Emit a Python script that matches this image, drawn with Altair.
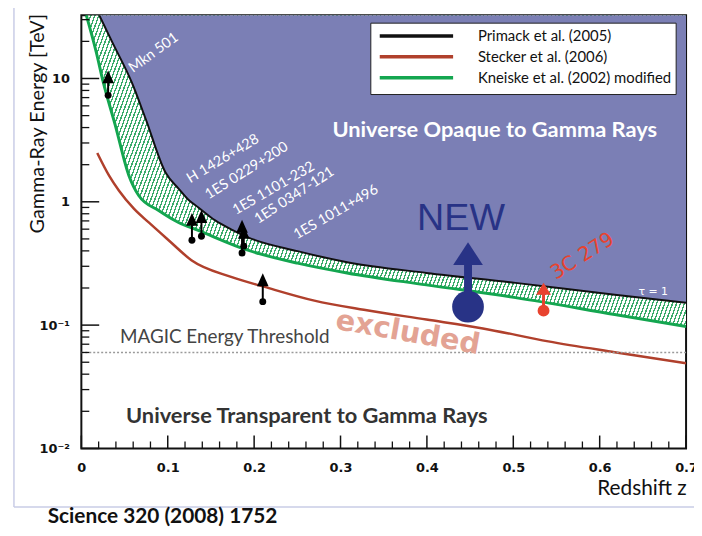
import altair as alt
import pandas as pd

# ---------------- data ----------------
# model curves: redshift z  vs  gamma-ray energy [TeV] where tau = 1
primack_z = [0.0207, 0.0356, 0.0585, 0.0746, 0.0976, 0.1125, 0.1239, 0.1354, 0.1549, 0.1733,
             0.1928, 0.2502, 0.3076, 0.3994, 0.5026, 0.6174, 0.70]
primack_e = [32.6, 19.8, 9.25, 4.67, 1.72, 1.28, 1.04, 0.90, 0.706, 0.598,
             0.515, 0.398, 0.324, 0.265, 0.220, 0.176, 0.152]

kneiske_z = [0.0057, 0.0172, 0.0252, 0.039, 0.0551, 0.0666, 0.0895, 0.1125, 0.1354, 0.1928,
             0.2502, 0.3076, 0.3994, 0.5026, 0.6174, 0.70]
kneiske_e = [32.6, 16.4, 9.42, 4.25, 1.63, 1.12, 0.85, 0.68, 0.586, 0.405,
             0.318, 0.265, 0.212, 0.167, 0.122, 0.0975]

stecker_z = [0.0184, 0.0321, 0.0436, 0.0608, 0.078, 0.101, 0.1274, 0.1733, 0.2123, 0.2697,
             0.327, 0.3994, 0.4648, 0.5405, 0.6174, 0.70]
stecker_e = [2.49, 1.63, 1.23, 0.88, 0.68, 0.488, 0.336, 0.246, 0.204, 0.158,
             0.133, 0.111, 0.094, 0.0738, 0.0603, 0.0491]

# known TeV blazars (lower limits)
src_names = ["Mkn 501", "H 1426+428", "1ES 0229+200", "1ES 1101-232", "1ES 0347-121", "1ES 1011+496"]
src_z = [0.031, 0.128, 0.139, 0.186, 0.188, 0.210]
src_e = [7.3, 0.488, 0.525, 0.384, 0.437, 0.155]
src_head = [10.3, 0.72, 0.76, 0.633, 0.565, 0.233]
src_label_z = [0.0838, 0.164, 0.1916, 0.2226, 0.2467, 0.2949]
src_label_e = [16.1, 2.22, 1.78, 1.28, 1.12, 0.82]
src_label_angle = [324, 329, 328, 330, 327, 330]

new_z = [0.4476]
new_e = [0.141]
new_head = [0.380]

c279_z = [0.535]
c279_e = [0.131]
c279_head = [0.197]

magic_threshold = [0.06]

e_top = 32.6   # upper end of the energy axis
x_major = [0.0, 0.1, 0.2, 0.3, 0.4, 0.5, 0.6, 0.7]
x_minor = [0.02, 0.04, 0.06, 0.08, 0.12, 0.14, 0.16, 0.18, 0.22, 0.24, 0.26, 0.28,
           0.32, 0.34, 0.36, 0.38, 0.42, 0.44, 0.46, 0.48, 0.52, 0.54, 0.56, 0.58,
           0.62, 0.64, 0.66, 0.68]
y_major = [0.01, 0.1, 1, 10]
y_minor = [0.02, 0.03, 0.04, 0.05, 0.06, 0.07, 0.08, 0.09,
           0.2, 0.3, 0.4, 0.5, 0.6, 0.7, 0.8, 0.9,
           2, 3, 4, 5, 6, 7, 8, 9, 20, 30]

legend_names = ["Primack et al. (2005)", "Stecker et al. (2006)", "Kneiske et al. (2002) modified"]
legend_colors = ["#111111", "#b0402c", "#14a650"]

# ---------------- styling ----------------
W, H = 610, 437
BLUE = "#7b7fb5"
GREEN = "#14a650"
RED = "#b0402c"

xs = alt.Scale(domain=[0, 0.7], nice=False, zero=False)
ys = alt.Scale(type="log", domain=[0.01, e_top], nice=False)

x_axis = alt.Axis(values=x_major, ticks=False, domain=False, grid=False,
                  labelExpr="datum.value == 0 ? '0' : format(datum.value, '.1f')",
                  labelFont="DejaVu Sans", labelFontSize=13, labelFontWeight="bold",
                  labelColor="#111", labelPadding=13, labelFlush=False, labelOverlap=False,
                  title="Redshift z", titleFont="Lato", titleFontSize=21, titleFontWeight="normal",
                  titleColor="#111", titleX=565, titleY=40, titleAlign="center",
                  titleBaseline="middle", titleAnchor="start")
y_axis = alt.Axis(values=y_major, ticks=False, domain=False, grid=False,
                  labelExpr="datum.value < 0.05 ? '10⁻²' : datum.value < 0.5 ? '10⁻¹' : datum.value < 5 ? '1' : '10'",
                  labelFont="DejaVu Sans", labelFontSize=13, labelFontWeight="bold",
                  labelColor="#111", labelPadding=12, labelOverlap=False, labelFlush=False,
                  title="Gamma-Ray Energy [TeV]", titleFont="Lato", titleFontSize=20,
                  titleFontWeight="normal", titleColor="#111", titleAngle=270,
                  titleX=-44, titleY=109, titleAlign="center", titleBaseline="middle",
                  titleAnchor="start")


def X(f):
    return alt.X(f, type="quantitative", scale=xs, axis=x_axis)


def Y(f):
    return alt.Y(f, type="quantitative", scale=ys, axis=y_axis)


one = pd.DataFrame({"k": [0]})

primack = pd.DataFrame({"z": primack_z, "e": primack_e, "top": [e_top] * len(primack_z)})
kneiske = pd.DataFrame({"z": kneiske_z, "e": kneiske_e, "top": [e_top] * len(kneiske_z)})
stecker = pd.DataFrame({"z": stecker_z, "e": stecker_e})
srcs = pd.DataFrame({"name": src_names, "z": src_z, "e": src_e, "head": src_head,
                     "lz": src_label_z, "le": src_label_e, "ang": src_label_angle})
newsrc = pd.DataFrame({"z": new_z, "e": new_e, "head": new_head})
c279 = pd.DataFrame({"z": c279_z, "e": c279_e, "head": c279_head})

# hatch pattern as a striped linear gradient
n_per = 180
stops = []
for i in range(n_per):
    a = i / n_per
    b = (i + 0.36) / n_per
    c = (i + 1) / n_per
    stops += [alt.GradientStop(offset=a, color="#3aab6b"),
              alt.GradientStop(offset=b, color="#3aab6b"),
              alt.GradientStop(offset=b, color="#ffffff"),
              alt.GradientStop(offset=c, color="#ffffff")]
hatch_fill = alt.LinearGradient(gradient="linear", stops=stops, x1=0, y1=0, x2=1.15, y2=0.2174)

layers = []

# slide frame (decoration)
layers.append(alt.Chart(one).mark_rule(color="#c9cce6", strokeWidth=1.5).encode(
    x=alt.value(-68), y=alt.value(-13), y2=alt.value(496)))
layers.append(alt.Chart(one).mark_rule(color="#c9cce6", strokeWidth=1.5).encode(
    x=alt.value(-68), x2=alt.value(640), y=alt.value(496)))

# hatched band (Kneiske curve up to top), then opaque region above Primack curve
layers.append(alt.Chart(kneiske).mark_area(fill=hatch_fill, clip=True, interpolate="monotone").encode(
    x=X("z"), y=Y("e"), y2="top"))
layers.append(alt.Chart(primack).mark_area(fill=BLUE, opacity=1, clip=True, interpolate="monotone").encode(
    x=X("z"), y=Y("e"), y2="top"))

# curves
layers.append(alt.Chart(kneiske).mark_line(color=GREEN, strokeWidth=3, clip=True, interpolate="monotone").encode(
    x=X("z"), y=Y("e")))
layers.append(alt.Chart(primack).mark_line(color="#111111", strokeWidth=2, clip=True, interpolate="monotone").encode(
    x=X("z"), y=Y("e")))
layers.append(alt.Chart(stecker).mark_line(color=RED, strokeWidth=2.5, clip=True, interpolate="monotone").encode(
    x=X("z"), y=Y("e")))

# MAGIC threshold
magic = pd.DataFrame({"e": magic_threshold, "z0": [x_major[0]], "z1": [x_major[-1]]})
layers.append(alt.Chart(magic).mark_rule(color="#9a9a9a", strokeWidth=1.6, strokeDash=[2, 2]).encode(
    x=X("z0"), x2="z1", y=Y("e")))

# inward ticks
tx_major = pd.DataFrame({"t": x_major})
tx_minor = pd.DataFrame({"t": x_minor})
ty_major = pd.DataFrame({"t": y_major})
ty_minor = pd.DataFrame({"t": y_minor})
layers.append(alt.Chart(tx_major).mark_rule(color="#111", strokeWidth=1.5).encode(
    x=X("t"), y=alt.value(H), y2=alt.value(H - 13)))
layers.append(alt.Chart(tx_minor).mark_rule(color="#111", strokeWidth=1.3).encode(
    x=X("t"), y=alt.value(H), y2=alt.value(H - 7)))
layers.append(alt.Chart(ty_major).mark_rule(color="#111", strokeWidth=1.5).encode(
    y=Y("t"), x=alt.value(0), x2=alt.value(18)))
layers.append(alt.Chart(ty_minor).mark_rule(color="#111", strokeWidth=1.3).encode(
    y=Y("t"), x=alt.value(0), x2=alt.value(8)))

# lower-limit arrows of known sources
layers.append(alt.Chart(srcs).mark_rule(color="black", strokeWidth=2).encode(
    x=X("z"), y=Y("e"), y2="head"))
layers.append(alt.Chart(srcs).mark_point(shape="M0,-1L0.9,1L-0.9,1Z", filled=True, color="black",
                                         opacity=1, size=169).encode(x=X("z"), y=Y("head")))
layers.append(alt.Chart(srcs).mark_point(shape="circle", filled=True, color="black",
                                         opacity=1, size=49).encode(x=X("z"), y=Y("e")))
layers.append(alt.Chart(srcs).mark_text(color="white", font="Lato", fontSize=14.5,
                                        align="center", baseline="middle").encode(
    x=X("lz"), y=Y("le"), text="name:N", angle=alt.Angle("ang:Q", scale=None)))

# NEW source
NAVY = "#283386"
layers.append(alt.Chart(newsrc).mark_rule(color=NAVY, strokeWidth=8).encode(
    x=X("z"), y=Y("e"), y2="head"))
layers.append(alt.Chart(newsrc).mark_point(shape="M0,-0.77L1,0.77L-1,0.77Z", filled=True, color=NAVY,
                                           opacity=1, size=900).encode(x=X("z"), y=Y("head")))
layers.append(alt.Chart(newsrc).mark_point(shape="circle", filled=True, color=NAVY,
                                           opacity=1, size=1024).encode(x=X("z"), y=Y("e")))

# 3C 279
CRED = "#e8432f"
layers.append(alt.Chart(c279).mark_rule(color=CRED, strokeWidth=3).encode(
    x=X("z"), y=Y("e"), y2="head"))
layers.append(alt.Chart(c279).mark_point(shape="M0,-0.8L1,0.8L-1,0.8Z", filled=True, color=CRED,
                                         opacity=1, size=225).encode(x=X("z"), y=Y("head")))
layers.append(alt.Chart(c279).mark_point(shape="circle", filled=True, color=CRED,
                                         opacity=1, size=144).encode(x=X("z"), y=Y("e")))

# annotation texts (positioned in data coordinates)
texts = [
    ("Universe Opaque to Gamma Rays", 0.4785, 3.8, dict(color="white", font="Lato", fontSize=22, fontWeight="bold", align="center", baseline="middle")),
    ("Universe Transparent to Gamma Rays", 0.261, 0.0184, dict(color="#333333", font="Lato", fontSize=22, fontWeight="bold", align="center", baseline="middle")),
    ("MAGIC Energy Threshold", 0.0448, 0.0794, dict(color="#444444", font="Lato", fontSize=19, align="left", baseline="middle")),
    ("excluded", 0.378, 0.087, dict(color="#e3a394", font="DejaVu Sans", fontSize=29, fontWeight="bold", align="center", baseline="middle", angle=10)),
    ("NEW", 0.4395, 0.586, dict(color=NAVY, font="Liberation Sans", fontSize=38, align="center", baseline="alphabetic")),
    ("3C 279", 0.58, 0.362, dict(color=CRED, font="DejaVu Sans", fontSize=20, align="center", baseline="middle", angle=328)),
    ("τ = 1", 0.662, 0.186, dict(color="white", font="DejaVu Sans", fontSize=11, align="center", baseline="middle")),
]
for label, tz, te, style in texts:
    d = pd.DataFrame({"z": [tz], "e": [te], "label": [label]})
    layers.append(alt.Chart(d).mark_text(**style).encode(x=X("z"), y=Y("e"), text="label:N"))

# legend box (drawn by hand, top right of the plot)
layers.append(alt.Chart(one).mark_rect(fill="white", stroke="#222", strokeWidth=1).encode(
    x=alt.value(292), x2=alt.value(600), y=alt.value(8), y2=alt.value(80)))
for i, (nm, col) in enumerate(zip(legend_names, legend_colors)):
    yy = 21 + i * 21
    layers.append(alt.Chart(one).mark_rule(color=col, strokeWidth=3.5).encode(
        x=alt.value(301), x2=alt.value(375), y=alt.value(yy)))
    layers.append(alt.Chart(one).mark_text(color="#111", font="Lato", fontSize=15, align="left",
                                           baseline="middle").encode(
        x=alt.value(400), y=alt.value(yy), text=alt.value(nm)))

# citation under the figure
layers.append(alt.Chart(one).mark_text(color="#111", font="Lato", fontSize=21, fontWeight="bold",
                                       align="left", baseline="alphabetic").encode(
    x=alt.value(-34), y=alt.value(512), text=alt.value("Science 320 (2008) 1752")))

chart = alt.layer(*layers).properties(
    width=W, height=H,
    autosize=alt.AutoSizeParams(type="none"),
    padding={"left": 74, "top": 5, "right": 8, "bottom": 78},
    background="white",
).configure_view(stroke="#111", strokeWidth=2)

chart.save("out.html", embed_options={"renderer": "svg", "actions": False})
